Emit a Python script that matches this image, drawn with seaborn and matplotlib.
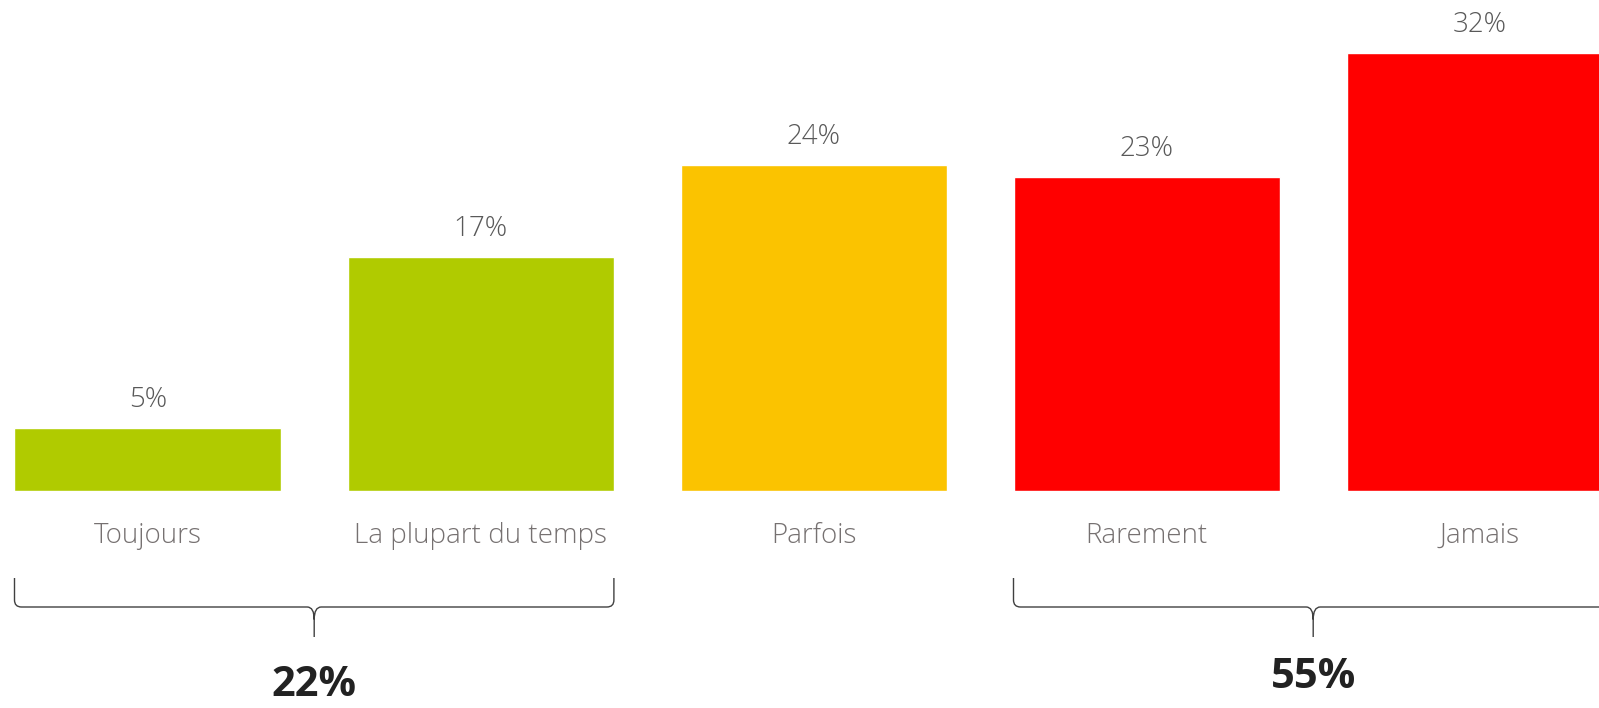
import matplotlib
matplotlib.use("Agg")
import matplotlib.pyplot as plt
from matplotlib.path import Path
from matplotlib.patches import PathPatch
import seaborn as sns
import pandas as pd

categories = ["Toujours", "La plupart du temps", "Parfois", "Rarement", "Jamais"]
values = [4.6, 17.1, 23.8, 22.9, 32.0]
value_labels = ["5%", "17%", "24%", "23%", "32%"]
bar_colors = ["#B0CB00", "#B0CB00", "#FBC300", "#FF0000", "#FF0000"]
groups = [(0, 1, "22%"), (3, 4, "55%")]

sns.set_theme(style="white")
plt.rcParams["font.family"] = ["Open Sans", "DejaVu Sans"]

W, H, DPI = 1599, 708, 100
fig = plt.figure(figsize=(W / DPI, H / DPI), dpi=DPI)
base_px = 491  # baseline from top
ax = fig.add_axes([0, (H - base_px) / H, 1, base_px / H])

df = pd.DataFrame({"cat": categories, "val": values})
bw = 0.80
sns.barplot(data=df, x="cat", y="val", hue="cat", palette=bar_colors,
            legend=False, width=bw, saturation=1, ax=ax)

pitch = 333.0
xmin = -bw / 2 - 14.5 / pitch
xmax = xmin + W / pitch
ax.set_xlim(xmin, xmax)
ymax = base_px / 13.7
ax.set_ylim(0, ymax)

for c, lab in zip(ax.containers, value_labels):
    ax.bar_label(c, labels=[lab], padding=10, fontsize=20, color="#595959",
                 fontweight="light")

ax.set_xlabel("")
ax.set_ylabel("")
ax.set_yticks([])
ax.tick_params(axis="x", length=0, pad=22, labelsize=20, labelcolor="#767171")
for t in ax.get_xticklabels():
    t.set_fontweight("light")
for s in ax.spines.values():
    s.set_visible(False)

def yfrac(p):
    return (base_px - p) / base_px

dxu = 1.0 / pitch  # data units per pixel
trans = ax.get_xaxis_transform()
y_top, y_h, y_tip = 578, 607, 637
r = 7
for i0, i1, lab in groups:
    x0 = i0 - bw / 2
    x1 = i1 + bw / 2
    xc = (x0 + x1) / 2
    verts = [
        (x0, yfrac(y_top)), (x0, yfrac(y_h - r)), (x0, yfrac(y_h)), (x0 + r * dxu, yfrac(y_h)),
        (xc - r * dxu, yfrac(y_h)), (xc, yfrac(y_h)), (xc, yfrac(y_h + r * 1.8)),
        (xc, yfrac(y_tip)),
        (xc, yfrac(y_h + r * 1.8)), (xc, yfrac(y_h)), (xc + r * dxu, yfrac(y_h)),
        (x1 - r * dxu, yfrac(y_h)), (x1, yfrac(y_h)), (x1, yfrac(y_h - r)), (x1, yfrac(y_top)),
    ]
    codes = [Path.MOVETO, Path.LINETO, Path.CURVE3, Path.CURVE3,
             Path.LINETO, Path.CURVE3, Path.CURVE3,
             Path.LINETO,
             Path.MOVETO, Path.CURVE3, Path.CURVE3,
             Path.LINETO, Path.CURVE3, Path.CURVE3, Path.LINETO]
    patch = PathPatch(Path(verts, codes), transform=trans, fill=False,
                      edgecolor="#404040", lw=1.0, clip_on=False)
    ax.add_patch(patch)

ax.text(0.5, yfrac(686), "22%", transform=trans, ha="center", va="center",
        fontsize=30, fontweight="bold", color="#222222", clip_on=False)
ax.text(3.5, yfrac(678), "55%", transform=trans, ha="center", va="center",
        fontsize=30, fontweight="bold", color="#222222", clip_on=False)

fig.savefig("out.png", dpi=DPI)
